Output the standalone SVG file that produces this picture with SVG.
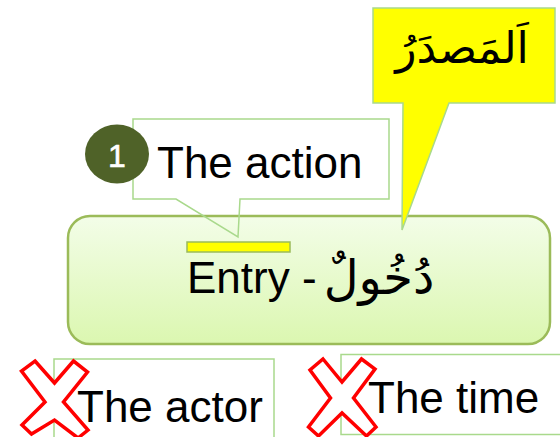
<svg xmlns="http://www.w3.org/2000/svg" width="560" height="437" viewBox="0 0 560 437">
<defs>
<linearGradient id="boxfill" x1="0" y1="0" x2="0" y2="1">
<stop offset="0" stop-color="#f3fde8"/>
<stop offset="1" stop-color="#dbf7b0"/>
</linearGradient>
</defs>
<style>
.lbl{font-family:"Liberation Sans",Arial,sans-serif;font-size:44px;fill:#000}
.ar{font-family:"DejaVu Sans",sans-serif;fill:#000}
.call{stroke:#a9d98c;stroke-width:1.5}
.cross{fill:#fff;stroke:#ff0000;stroke-width:3.5;stroke-linejoin:miter}
</style>
<rect width="560" height="437" fill="#fff"/>
<g id="main">
<rect x="68" y="216" width="482" height="128" rx="22" ry="22" fill="url(#boxfill)" stroke="#9bbb59" stroke-width="2.5"/>
<rect x="187" y="242" width="103" height="10" fill="#ffff00" stroke="#9bbb59" stroke-width="1.5"/>
<text class="lbl" x="187" y="293">Entry -</text>
<text class="ar" x="379" y="294" font-size="48" text-anchor="middle" direction="rtl">دُخُولٌ</text>
</g>
<g id="connectors">
<path class="call" fill="none" d="M133,119 H389 V199 H240 L238,237 L176,199 H133 Z"/>
<path class="call" fill="#ffff00" d="M373,8 H555 V103 H449 L402,230 L403,103 H373 Z"/>
</g>
<g id="action">
<text class="lbl" x="157" y="178">The action</text>
</g>
<g id="badge">
<ellipse cx="117" cy="154" rx="32" ry="29.5" fill="#4f6228"/>
<text x="117" y="167" font-family="Liberation Sans,Arial,sans-serif" font-size="32" fill="#fff" stroke="#fff" stroke-width="0.6" text-anchor="middle">1</text>
</g>
<g id="masdar">
<text class="ar" x="462" y="63" font-size="44" text-anchor="middle" direction="rtl">اَلمَصدَرُ</text>
</g>
<g id="actor">
<rect x="54" y="359" width="220" height="90" fill="#fff" class="call"/>
<text class="lbl" x="77" y="422">The actor</text>
<path class="cross" d="M35,361 L54.5,383 L73.5,361 L87.5,372 L63.5,402 L88,430 L78,438 L54.5,420 L31.5,434 L22,425 L45,402 L21.5,371 Z"/>
</g>
<g id="time">
<rect x="341" y="354.5" width="230" height="80" fill="#fff" class="call"/>
<text class="lbl" x="368" y="413">The time</text>
<path class="cross" d="M323,359 L342,382 L361.5,359 L375,369 L353.5,398 L376,427 L366.5,436 L342,413 L318.5,436 L308.5,427 L330.5,398 L310,370 Z"/>
</g>
</svg>
